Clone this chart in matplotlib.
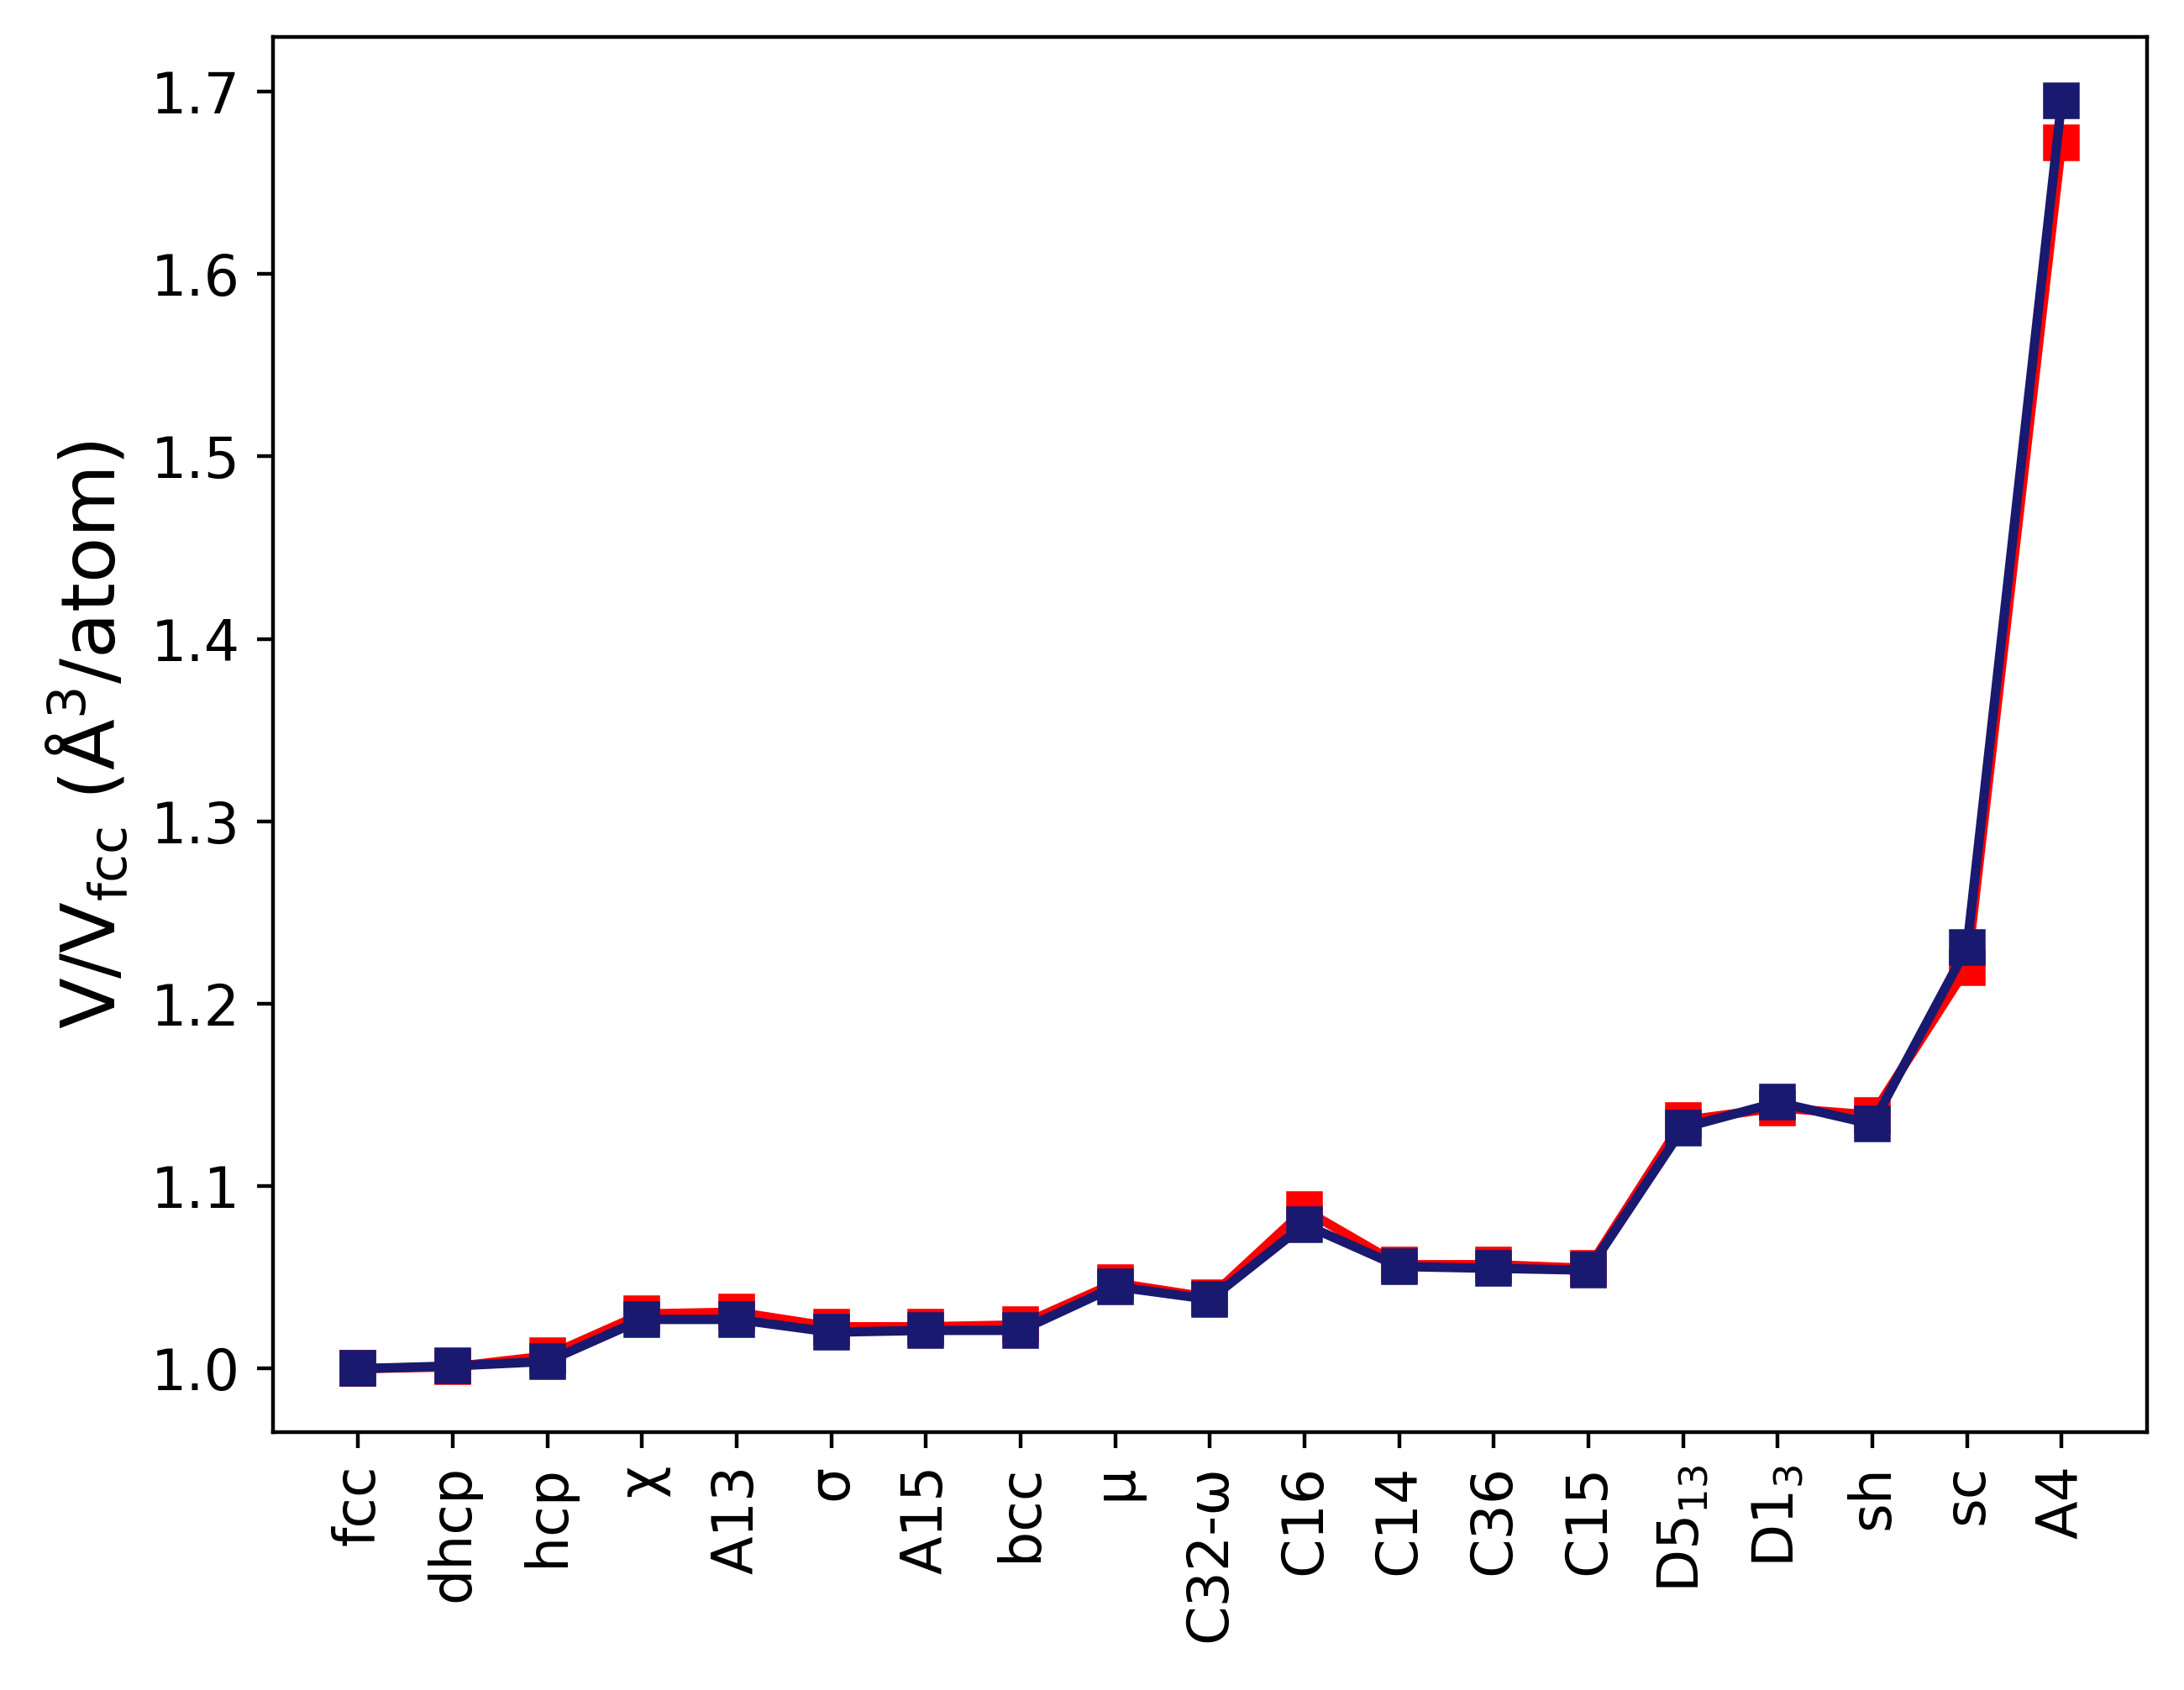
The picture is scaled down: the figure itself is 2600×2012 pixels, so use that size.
import matplotlib
matplotlib.use('Agg')
import matplotlib.pyplot as plt

structures = ['fcc', 'dhcp', 'hcp', 'χ', 'A13', 'σ', 'A15', 'bcc', 'μ', 'C32-ω',
              'C16', 'C14', 'C36', 'C15', r'D5$_{13}$', r'D1$_{3}$', 'sh', 'sc', 'A4']

# 体積比 (赤: 1つ目のデータ, 紺: 2つ目のデータ)
vol_red = [1.000, 1.001, 1.007, 1.030, 1.031, 1.023, 1.023, 1.024, 1.047, 1.039,
           1.087, 1.057, 1.057, 1.055, 1.136, 1.143, 1.139, 1.220, 1.672]
vol_navy = [1.000, 1.0015, 1.004, 1.027, 1.027, 1.020, 1.021, 1.021, 1.045, 1.038,
            1.079, 1.056, 1.055, 1.054, 1.132, 1.146, 1.134, 1.231, 1.695]


def main():
    fig, ax = plt.subplots(figsize=(6.5, 5.03))
    fig.subplots_adjust(left=0.125, right=0.983, top=0.978, bottom=0.1526)

    x = list(range(len(structures)))
    ax.plot(x, vol_red, color='red', marker='s', markersize=7, linewidth=2)
    ax.plot(x, vol_navy, color='midnightblue', marker='s', markersize=7, linewidth=2)

    ax.set_xticks(x)
    ax.set_xticklabels(structures, rotation=90)
    ax.tick_params(labelsize=12)
    ax.set_ylabel(r'V/V$_{\mathrm{fcc}}$ ($\mathrm{\AA}^3$/atom)', fontsize=16)

    fig.savefig('out.png', dpi=400)


if __name__ == '__main__':
    main()
